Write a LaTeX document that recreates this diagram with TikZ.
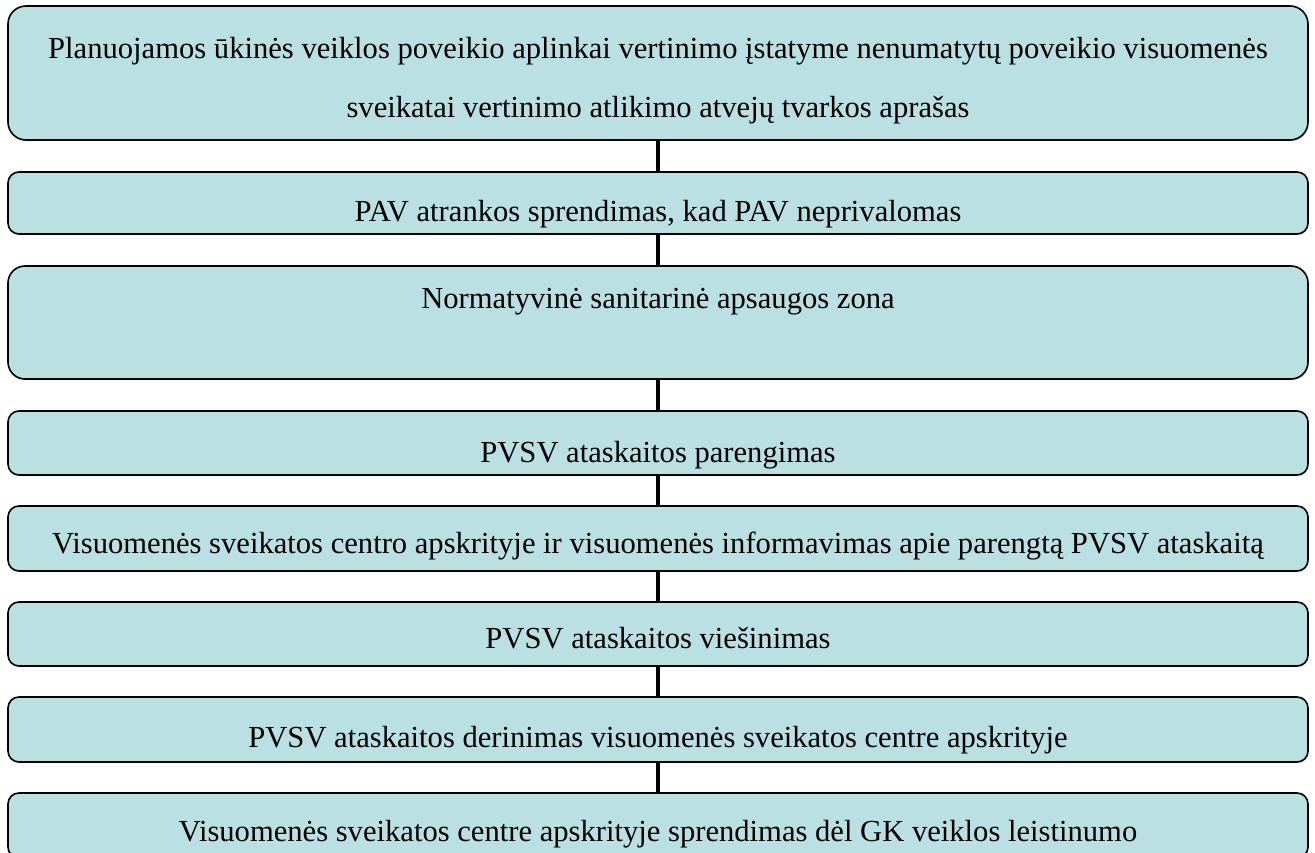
\documentclass[tikz,border=0pt]{standalone}
\usepackage{fontspec}
\setmainfont{Liberation Serif}
\usetikzlibrary{shadows}
\definecolor{boxfill}{RGB}{187,224,227}
\begin{document}
\begin{tikzpicture}[x=1pt,y=-1pt,
  stepbox/.style={draw=black, line width=1.6pt, fill=boxfill, rectangle,
    rounded corners=11pt, minimum width=1300pt, inner sep=0pt, outer sep=0pt,
    drop shadow={shadow xshift=0.6pt, shadow yshift=-1.2pt, fill=black!35}},
  link/.style={line width=4.5pt, draw=black},
  txt/.style={font=\fontsize{30.6}{37}\selectfont, anchor=base, inner sep=0pt}]
\useasboundingbox (0,0) rectangle (1315,852);
\clip (0,0) rectangle (1315,852);
% boxes
\node[stepbox, rounded corners=18pt, minimum height=134pt] (b1) at (658,73) {};
\node[stepbox, minimum height=62pt] (b2) at (658,203) {};
\node[stepbox, rounded corners=17pt, minimum height=113pt] (b3) at (658,322.5) {};
\node[stepbox, minimum height=64pt] (b4) at (658,443) {};
\node[stepbox, minimum height=65pt] (b5) at (658,538.5) {};
\node[stepbox, minimum height=64pt] (b6) at (658,634) {};
\node[stepbox, minimum height=65pt] (b7) at (658,729.5) {};
\node[stepbox, minimum height=65pt] (b8) at (658,825.5) {};
% connectors
\draw[link] (b1.south) -- (b2.north);
\draw[link] (b2.south) -- (b3.north);
\draw[link] (b3.south) -- (b4.north);
\draw[link] (b4.south) -- (b5.north);
\draw[link] (b5.south) -- (b6.north);
\draw[link] (b6.south) -- (b7.north);
\draw[link] (b7.south) -- (b8.north);
% texts
\node[txt] (t1a) at (658,58) {Planuojamos ūkinės veiklos poveikio aplinkai vertinimo įstatyme nenumatytų poveikio visuomenės};
\node[txt] (t1b) at (658,117) {sveikatai vertinimo atlikimo atvejų tvarkos aprašas};
\node[txt] (t2) at (658,221) {PAV atrankos sprendimas, kad PAV neprivalomas};
\node[txt] (t3) at (658,308) {Normatyvinė sanitarinė apsaugos zona};
\node[txt] (t4) at (658,462) {PVSV ataskaitos parengimas};
\node[txt] (t5) at (658,553) {Visuomenės sveikatos centro apskrityje ir visuomenės informavimas apie parengtą PVSV ataskaitą};
\node[txt] (t6) at (658,648) {PVSV ataskaitos viešinimas};
\node[txt] (t7) at (658,747) {PVSV ataskaitos derinimas visuomenės sveikatos centre apskrityje};
\node[txt] (t8) at (658,841) {Visuomenės sveikatos centre apskrityje sprendimas dėl GK veiklos leistinumo};
\end{tikzpicture}
\end{document}
